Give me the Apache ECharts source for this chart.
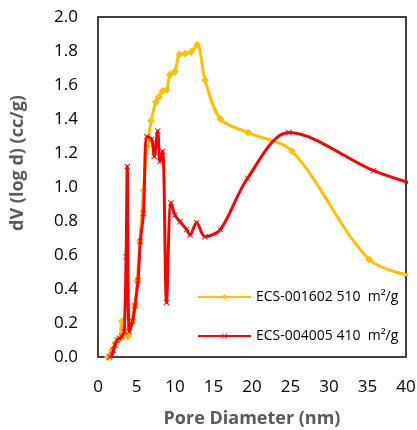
<!DOCTYPE html>
<html>
<head>
<meta charset="utf-8">
<script src="https://cdn.jsdelivr.net/npm/echarts@6/dist/echarts.min.js"></script>
<style>
  html, body { margin: 0; padding: 0; background: #fff; }
  #chart { width: 417px; height: 430px; }
</style>
</head>
<body>
<div id="chart"></div>
<script>
// Pore size distribution (DFT), dV(log d) versus pore diameter
const seriesNames = ['ECS-001602 510  m\u00b2/g', 'ECS-004005 410  m\u00b2/g'];

// [pore diameter (nm), dV(log d) (cc/g)]
const ecs001602 = [
  [1.3, 0.00], [1.8, 0.04], [2.4, 0.09], [2.85, 0.11], [3.1, 0.21], [3.9, 0.12],
  [4.4, 0.21], [4.8, 0.30], [5.1, 0.45], [5.45, 0.68], [5.9, 0.98], [6.4, 1.24],
  [6.9, 1.39], [7.5, 1.50], [7.9, 1.53], [8.4, 1.565], [8.9, 1.57], [9.35, 1.66],
  [10.0, 1.68], [10.55, 1.78], [11.3, 1.786], [12.1, 1.796], [12.9, 1.835],
  [13.9, 1.63], [15.9, 1.40], [19.5, 1.32], [25.2, 1.21], [35.2, 0.575], [41.5, 0.47]
];

const ecs004005 = [
  [1.5, 0.00], [1.8, 0.01], [2.0, 0.04], [2.2, 0.07], [2.5, 0.10], [2.8, 0.11],
  [3.1, 0.12], [3.4, 0.15], [3.65, 0.59], [3.8, 1.12], [4.05, 0.15], [4.5, 0.21],
  [4.8, 0.30], [5.2, 0.45], [5.5, 0.68], [5.9, 0.845], [6.35, 1.296], [6.97, 1.28],
  [7.3, 1.18], [7.75, 1.33], [8.05, 1.15], [8.4, 1.21], [8.9, 0.32], [9.48, 0.907],
  [10.0, 0.835], [10.65, 0.796], [11.5, 0.75], [11.95, 0.718], [12.8, 0.79],
  [13.9, 0.708], [15.9, 0.75], [19.4, 1.05], [24.8, 1.32], [35.8, 1.096], [41.5, 1.01]
];

const xTicks = { min: 0, max: 40, interval: 5 };
const yTicks = { min: 0, max: 2, interval: 0.2 };

const crossMark = 'path://M0,1L1,0L5,4L9,0L10,1L6,5L10,9L9,10L5,6L1,10L0,9L4,5Z';
const FONT = '"Open Sans", "Liberation Sans", sans-serif';

const chart = echarts.init(document.getElementById('chart'), null, { renderer: 'canvas' });

chart.setOption({
  animation: false,
  backgroundColor: '#ffffff',
  grid: {
    left: 98, right: 11, top: 17, bottom: 73,
    outerBoundsMode: 'none',
    containLabel: false,
    show: true, borderColor: '#404040', borderWidth: 2, backgroundColor: 'transparent'
  },
  legend: {
    orient: 'vertical',
    left: 192, top: 285,
    itemWidth: 53, itemHeight: 7, itemGap: 25,
    textStyle: { fontFamily: FONT, fontSize: 14, color: '#000' },
    data: seriesNames
  },
  xAxis: {
    type: 'value',
    min: xTicks.min, max: xTicks.max, interval: xTicks.interval,
    name: 'Pore Diameter (nm)',
    nameLocation: 'middle', nameGap: 53,
    nameTextStyle: { fontFamily: FONT, fontSize: 18, fontWeight: 'bold', color: '#595959' },
    axisLine: { show: true, lineStyle: { color: '#404040', width: 2 } },
    axisTick: { show: false },
    splitLine: { show: false },
    axisLabel: { margin: 22, fontFamily: FONT, fontSize: 17, color: '#000' }
  },
  yAxis: {
    type: 'value',
    min: yTicks.min, max: yTicks.max, interval: yTicks.interval,
    axisLine: { show: true, lineStyle: { color: '#404040', width: 2 } },
    axisTick: { show: false },
    splitLine: { show: false },
    axisLabel: {
      margin: 20, fontFamily: FONT, fontSize: 17, color: '#000',
      formatter: v => v.toFixed(1)
    }
  },
  graphic: [{
    type: 'text',
    x: 18, y: 163,
    rotation: Math.PI / 2,
    style: {
      text: 'dV (log d) (cc/g)',
      fontFamily: FONT, fontSize: 18, fontWeight: 'bold', fill: '#595959',
      align: 'center', verticalAlign: 'middle'
    }
  }],
  series: [
    {
      name: seriesNames[0],
      type: 'line',
      data: ecs001602,
      smooth: 0.33,
      clip: true,
      symbol: 'diamond',
      symbolSize: 8,
      showAllSymbol: true,
      lineStyle: { color: '#FFC000', width: 3 },
      itemStyle: { color: '#FFC000' },
      z: 2
    },
    {
      name: seriesNames[1],
      type: 'line',
      data: ecs004005,
      smooth: 0.33,
      clip: true,
      symbol: crossMark,
      symbolSize: 6,
      showAllSymbol: true,
      lineStyle: { color: '#FF0000', width: 3 },
      itemStyle: { color: '#FF0000' },
      z: 3
    }
  ]
});
</script>
</body>
</html>
